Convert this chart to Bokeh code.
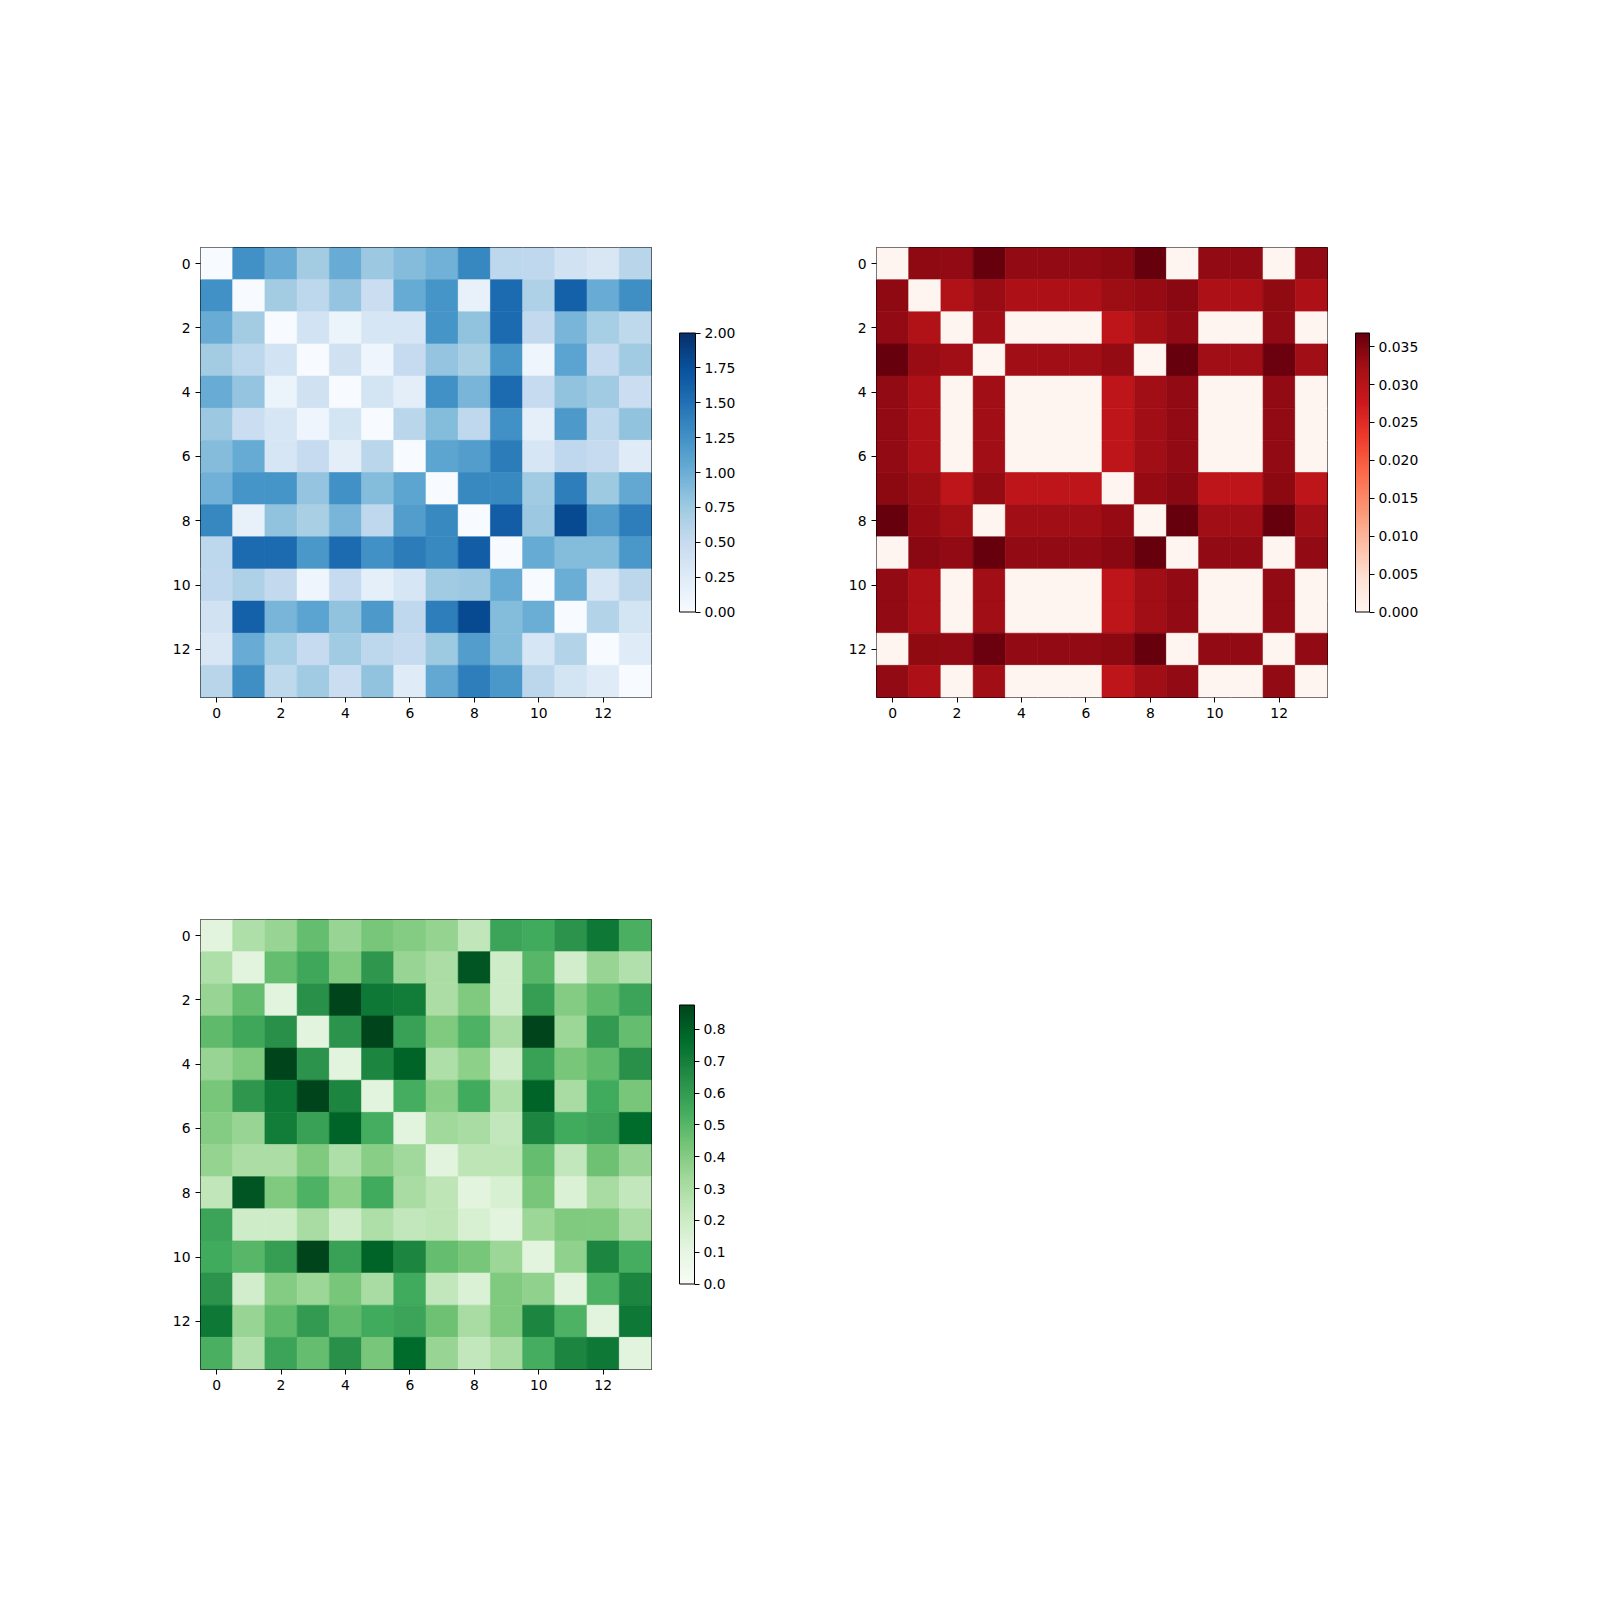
from bokeh.plotting import figure
from bokeh.models import (ColumnDataSource, LinearColorMapper, ColorBar,
                          FixedTicker, PrintfTickFormatter, Range1d)
from bokeh.layouts import column, row
from bokeh.transform import transform
from bokeh.embed import file_html
from bokeh.resources import INLINE

# ---------------- data ----------------
axis_ticks = [0, 2, 4, 6, 8, 10, 12]

blue_matrix = [
    [0.00, 1.25, 1.02, 0.72, 1.02, 0.76, 0.87, 0.97, 1.33, 0.56, 0.54, 0.39, 0.31, 0.59],
    [1.25, 0.00, 0.72, 0.56, 0.80, 0.45, 1.03, 1.22, 0.15, 1.55, 0.65, 1.62, 1.02, 1.27],
    [1.02, 0.72, 0.00, 0.38, 0.12, 0.33, 0.33, 1.22, 0.82, 1.55, 0.52, 0.93, 0.70, 0.55],
    [0.72, 0.56, 0.38, 0.00, 0.40, 0.10, 0.50, 0.80, 0.68, 1.20, 0.10, 1.10, 0.50, 0.74],
    [1.02, 0.80, 0.12, 0.40, 0.00, 0.36, 0.20, 1.25, 0.93, 1.55, 0.50, 0.82, 0.73, 0.45],
    [0.76, 0.45, 0.33, 0.10, 0.36, 0.00, 0.58, 0.88, 0.54, 1.25, 0.19, 1.18, 0.56, 0.82],
    [0.87, 1.03, 0.33, 0.50, 0.20, 0.58, 0.00, 1.08, 1.15, 1.42, 0.33, 0.54, 0.50, 0.24],
    [0.97, 1.22, 1.22, 0.80, 1.25, 0.88, 1.08, 0.00, 1.32, 1.32, 0.74, 1.40, 0.75, 1.05],
    [1.33, 0.15, 0.82, 0.68, 0.93, 0.54, 1.15, 1.32, 0.00, 1.65, 0.76, 1.80, 1.15, 1.40],
    [0.56, 1.55, 1.55, 1.20, 1.55, 1.25, 1.42, 1.32, 1.65, 0.00, 1.03, 0.88, 0.88, 1.20],
    [0.54, 0.65, 0.52, 0.10, 0.50, 0.19, 0.33, 0.74, 0.76, 1.03, 0.00, 1.00, 0.33, 0.57],
    [0.39, 1.62, 0.93, 1.10, 0.82, 1.18, 0.54, 1.40, 1.80, 0.88, 1.00, 0.00, 0.62, 0.36],
    [0.31, 1.02, 0.70, 0.50, 0.73, 0.56, 0.50, 0.75, 1.15, 0.88, 0.33, 0.62, 0.00, 0.24],
    [0.59, 1.27, 0.55, 0.74, 0.45, 0.82, 0.24, 1.05, 1.40, 1.20, 0.57, 0.36, 0.24, 0.00],
]
blue_range = (0.0, 2.0)
blue_cticks = [0.0, 0.25, 0.5, 0.75, 1.0, 1.25, 1.5, 1.75, 2.0]

red_matrix = [
    [0, .0339, .0335, .0368, .0335, .0335, .0335, .0340, .0368, 0, .0335, .0335, 0, .0335],
    [.0339, 0, .0309, .0330, .0311, .0311, .0311, .0328, .0333, .0342, .0311, .0311, .0337, .0311],
    [.0335, .0309, 0, .0324, 0, 0, 0, .0293, .0322, .0335, 0, 0, .0335, 0],
    [.0368, .0330, .0324, 0, .0324, .0324, .0324, .0334, 0, .0368, .0324, .0324, .0365, .0324],
    [.0335, .0311, 0, .0324, 0, 0, 0, .0293, .0324, .0335, 0, 0, .0335, 0],
    [.0335, .0311, 0, .0324, 0, 0, 0, .0293, .0324, .0335, 0, 0, .0335, 0],
    [.0335, .0311, 0, .0324, 0, 0, 0, .0293, .0324, .0335, 0, 0, .0335, 0],
    [.0340, .0328, .0293, .0334, .0293, .0293, .0293, 0, .0333, .0342, .0293, .0293, .0340, .0293],
    [.0368, .0333, .0322, 0, .0324, .0324, .0324, .0333, 0, .0368, .0324, .0324, .0368, .0324],
    [0, .0342, .0335, .0368, .0335, .0335, .0335, .0342, .0368, 0, .0335, .0335, 0, .0335],
    [.0335, .0311, 0, .0324, 0, 0, 0, .0293, .0324, .0335, 0, 0, .0335, 0],
    [.0335, .0311, 0, .0324, 0, 0, 0, .0293, .0324, .0335, 0, 0, .0335, 0],
    [0, .0337, .0335, .0365, .0335, .0335, .0335, .0340, .0368, 0, .0335, .0335, 0, .0335],
    [.0335, .0311, 0, .0324, 0, 0, 0, .0293, .0324, .0335, 0, 0, .0335, 0],
]
red_range = (0.0, 0.0368)
red_cticks = [0.0, 0.005, 0.01, 0.015, 0.02, 0.025, 0.03, 0.035]

green_matrix = [
    [0.12, 0.29, 0.35, 0.47, 0.35, 0.43, 0.40, 0.36, 0.24, 0.57, 0.55, 0.63, 0.72, 0.53],
    [0.29, 0.12, 0.47, 0.56, 0.41, 0.62, 0.35, 0.30, 0.83, 0.19, 0.50, 0.18, 0.35, 0.28],
    [0.35, 0.47, 0.12, 0.64, 0.877, 0.72, 0.71, 0.30, 0.41, 0.19, 0.59, 0.40, 0.48, 0.57],
    [0.48, 0.56, 0.64, 0.12, 0.63, 0.877, 0.58, 0.41, 0.52, 0.31, 0.877, 0.34, 0.60, 0.47],
    [0.35, 0.41, 0.877, 0.63, 0.12, 0.68, 0.79, 0.29, 0.38, 0.19, 0.58, 0.43, 0.48, 0.64],
    [0.43, 0.62, 0.72, 0.877, 0.68, 0.12, 0.54, 0.39, 0.55, 0.29, 0.79, 0.31, 0.55, 0.43],
    [0.40, 0.35, 0.71, 0.58, 0.79, 0.54, 0.12, 0.33, 0.31, 0.23, 0.68, 0.55, 0.57, 0.77],
    [0.36, 0.30, 0.30, 0.41, 0.29, 0.39, 0.33, 0.12, 0.25, 0.25, 0.47, 0.23, 0.45, 0.35],
    [0.24, 0.83, 0.41, 0.52, 0.38, 0.55, 0.31, 0.25, 0.12, 0.16, 0.43, 0.15, 0.31, 0.23],
    [0.57, 0.19, 0.19, 0.31, 0.19, 0.29, 0.23, 0.25, 0.16, 0.12, 0.34, 0.41, 0.41, 0.31],
    [0.55, 0.50, 0.59, 0.877, 0.58, 0.79, 0.68, 0.47, 0.43, 0.34, 0.12, 0.37, 0.68, 0.54],
    [0.63, 0.18, 0.40, 0.34, 0.43, 0.31, 0.55, 0.23, 0.15, 0.41, 0.37, 0.12, 0.52, 0.68],
    [0.72, 0.35, 0.48, 0.60, 0.48, 0.55, 0.57, 0.45, 0.31, 0.41, 0.68, 0.52, 0.12, 0.72],
    [0.53, 0.28, 0.57, 0.47, 0.64, 0.43, 0.77, 0.35, 0.23, 0.31, 0.54, 0.68, 0.72, 0.12],
]
green_range = (0.0, 0.877)
green_cticks = [0.0, 0.1, 0.2, 0.3, 0.4, 0.5, 0.6, 0.7, 0.8]

# colormap anchor colours (matplotlib Blues / Reds / Greens)
blues_nodes = ["#f7fbff", "#deebf7", "#c6dbef", "#9ecae1", "#6baed6",
               "#4292c6", "#2171b5", "#08519c", "#08306b"]
reds_nodes = ["#fff5f0", "#fee0d2", "#fcbba1", "#fc9272", "#fb6a4a",
              "#ef3b2c", "#cb181d", "#a50f15", "#67000d"]
greens_nodes = ["#f7fcf5", "#e5f5e0", "#c7e9c0", "#a1d99b", "#74c476",
                "#41ab5d", "#238b45", "#006d2c", "#00441b"]


def ramp(nodes, n=256):
    rgb = [tuple(int(h[i:i + 2], 16) for i in (1, 3, 5)) for h in nodes]
    out = []
    for k in range(n):
        t = k / (n - 1) * (len(nodes) - 1)
        i = min(int(t), len(nodes) - 2)
        f = t - i
        c = [round(rgb[i][j] + (rgb[i + 1][j] - rgb[i][j]) * f) for j in range(3)]
        out.append("#%02x%02x%02x" % tuple(c))
    return out


FONT = "DejaVu Sans"
FS = "13.9px"


def heat(mat, nodes, vrange, cticks, cfmt, bar_w, bl, br, bt, bb):
    n = len(mat)
    xs, ys, vs = [], [], []
    for r, rowv in enumerate(mat):
        for c, v in enumerate(rowv):
            xs.append(c)
            ys.append(r)
            vs.append(v)
    src = ColumnDataSource(dict(x=xs, y=ys, v=vs))
    mapper = LinearColorMapper(palette=ramp(nodes), low=vrange[0], high=vrange[1])
    p = figure(width=bl + 451 + br, height=bt + 450 + bb,
               x_range=Range1d(-0.5, n - 0.5), y_range=Range1d(n - 0.5, -0.5),
               output_backend="svg", toolbar_location=None,
               min_border_left=bl, min_border_right=br,
               min_border_top=bt, min_border_bottom=bb)
    p.rect(x="x", y="y", width=1, height=1, source=src,
           fill_color=transform("v", mapper), line_color=transform("v", mapper),
           line_width=0.6)
    p.grid.visible = False
    p.outline_line_color = "black"
    p.outline_line_width = 1
    p.outline_line_alpha = 1
    for ax in (p.xaxis[0], p.yaxis[0]):
        ax.ticker = FixedTicker(ticks=axis_ticks)
        ax.axis_line_color = None
        ax.major_tick_in = 0
        ax.major_tick_out = 5
        ax.major_tick_line_color = "black"
        ax.major_tick_line_width = 1
        ax.minor_tick_line_color = None
        ax.major_label_text_font = FONT
        ax.major_label_text_font_size = FS
        ax.major_label_text_color = "black"
        ax.major_label_standoff = 5
    cb = ColorBar(color_mapper=mapper, ticker=FixedTicker(ticks=cticks),
                  formatter=PrintfTickFormatter(format=cfmt),
                  width=bar_w, height=279, location="center_left",
                  padding=28, margin=0,
                  bar_line_color="black", bar_line_width=1,
                  major_tick_in=0, major_tick_out=5,
                  major_tick_line_color="black", major_tick_line_width=1,
                  minor_tick_line_color=None,
                  major_label_text_font=FONT, major_label_text_font_size=FS,
                  major_label_text_color="black", label_standoff=4,
                  background_fill_color=None, border_line_color=None)
    p.add_layout(cb, "right")
    return p


p1 = heat(blue_matrix, blues_nodes, blue_range, blue_cticks, "%.2f", 16,
          200, 149, 247, 103)
p2 = heat(red_matrix, reds_nodes, red_range, red_cticks, "%.3f", 14,
          76, 273, 247, 103)
p3 = heat(green_matrix, greens_nodes, green_range, green_cticks, "%.1f", 15,
          200, 149, 119, 231)

layout = column(row(p1, p2, spacing=0), p3, spacing=0)
open("out.html", "w").write(file_html(layout, INLINE))
